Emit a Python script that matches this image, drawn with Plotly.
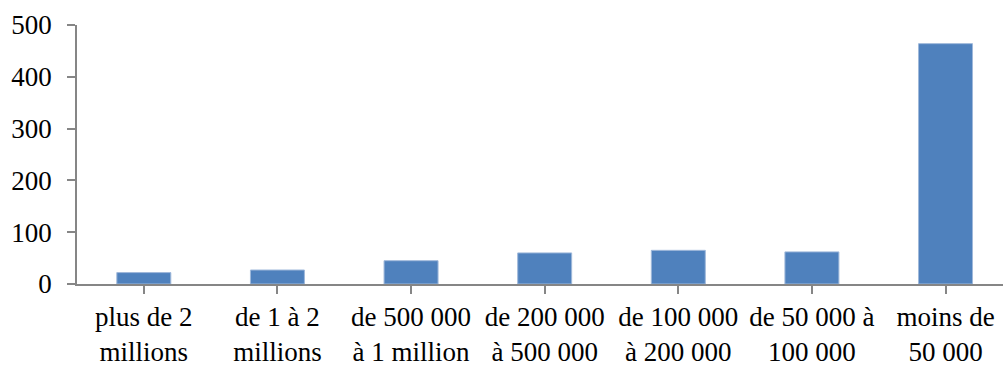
import plotly.graph_objects as go

# Size classes (tick labels, two lines each)
categories = [
    "plus de 2<br>millions",
    "de 1 à 2<br>millions",
    "de 500 000<br>à 1 million",
    "de 200 000<br>à 500 000",
    "de 100 000<br>à 200 000",
    "de 50 000 à<br>100 000",
    "moins de<br>50 000",
]
counts = [22, 27, 45, 60, 65, 62, 464]
y_ticks = [0, 100, 200, 300, 400, 500]

BAR_BLUE = "#4F81BD"
AXIS_GREY = "#868686"
FONT = dict(family="Liberation Serif, Times New Roman, serif", size=27, color="#000000")

fig = go.Figure(
    go.Bar(
        x=list(range(len(categories))),
        y=counts,
        width=0.404,
        marker=dict(color=BAR_BLUE, line=dict(color="#9FB8DA", width=1)),
        hoverinfo="skip",
    )
)

fig.update_layout(
    width=1003,
    height=367,
    margin=dict(l=77, r=0, t=25, b=79),
    paper_bgcolor="white",
    plot_bgcolor="white",
    showlegend=False,
    font=FONT,
)

# Category axis: ticks at the boundaries between classes
fig.update_xaxes(
    tickmode="array",
    tickvals=list(range(len(categories))),
    ticktext=categories,
    range=[-0.5, 6.43],
    showline=True,
    linecolor=AXIS_GREY,
    linewidth=1.5,
    ticks="outside",
    tickson="boundaries",
    ticklen=8,
    tickwidth=1.5,
    tickcolor=AXIS_GREY,
    showgrid=False,
    zeroline=False,
    tickfont=FONT,
    ticklabelstandoff=0,
)

fig.update_yaxes(
    range=[0, 500],
    tickmode="array",
    tickvals=y_ticks,
    ticktext=[str(v) for v in y_ticks],
    showline=True,
    linecolor=AXIS_GREY,
    linewidth=1.5,
    ticks="outside",
    ticklen=8,
    tickwidth=1.5,
    tickcolor=AXIS_GREY,
    showgrid=False,
    zeroline=False,
    tickfont=FONT,
    ticklabelstandoff=10,
)

fig.write_html("out.html")
